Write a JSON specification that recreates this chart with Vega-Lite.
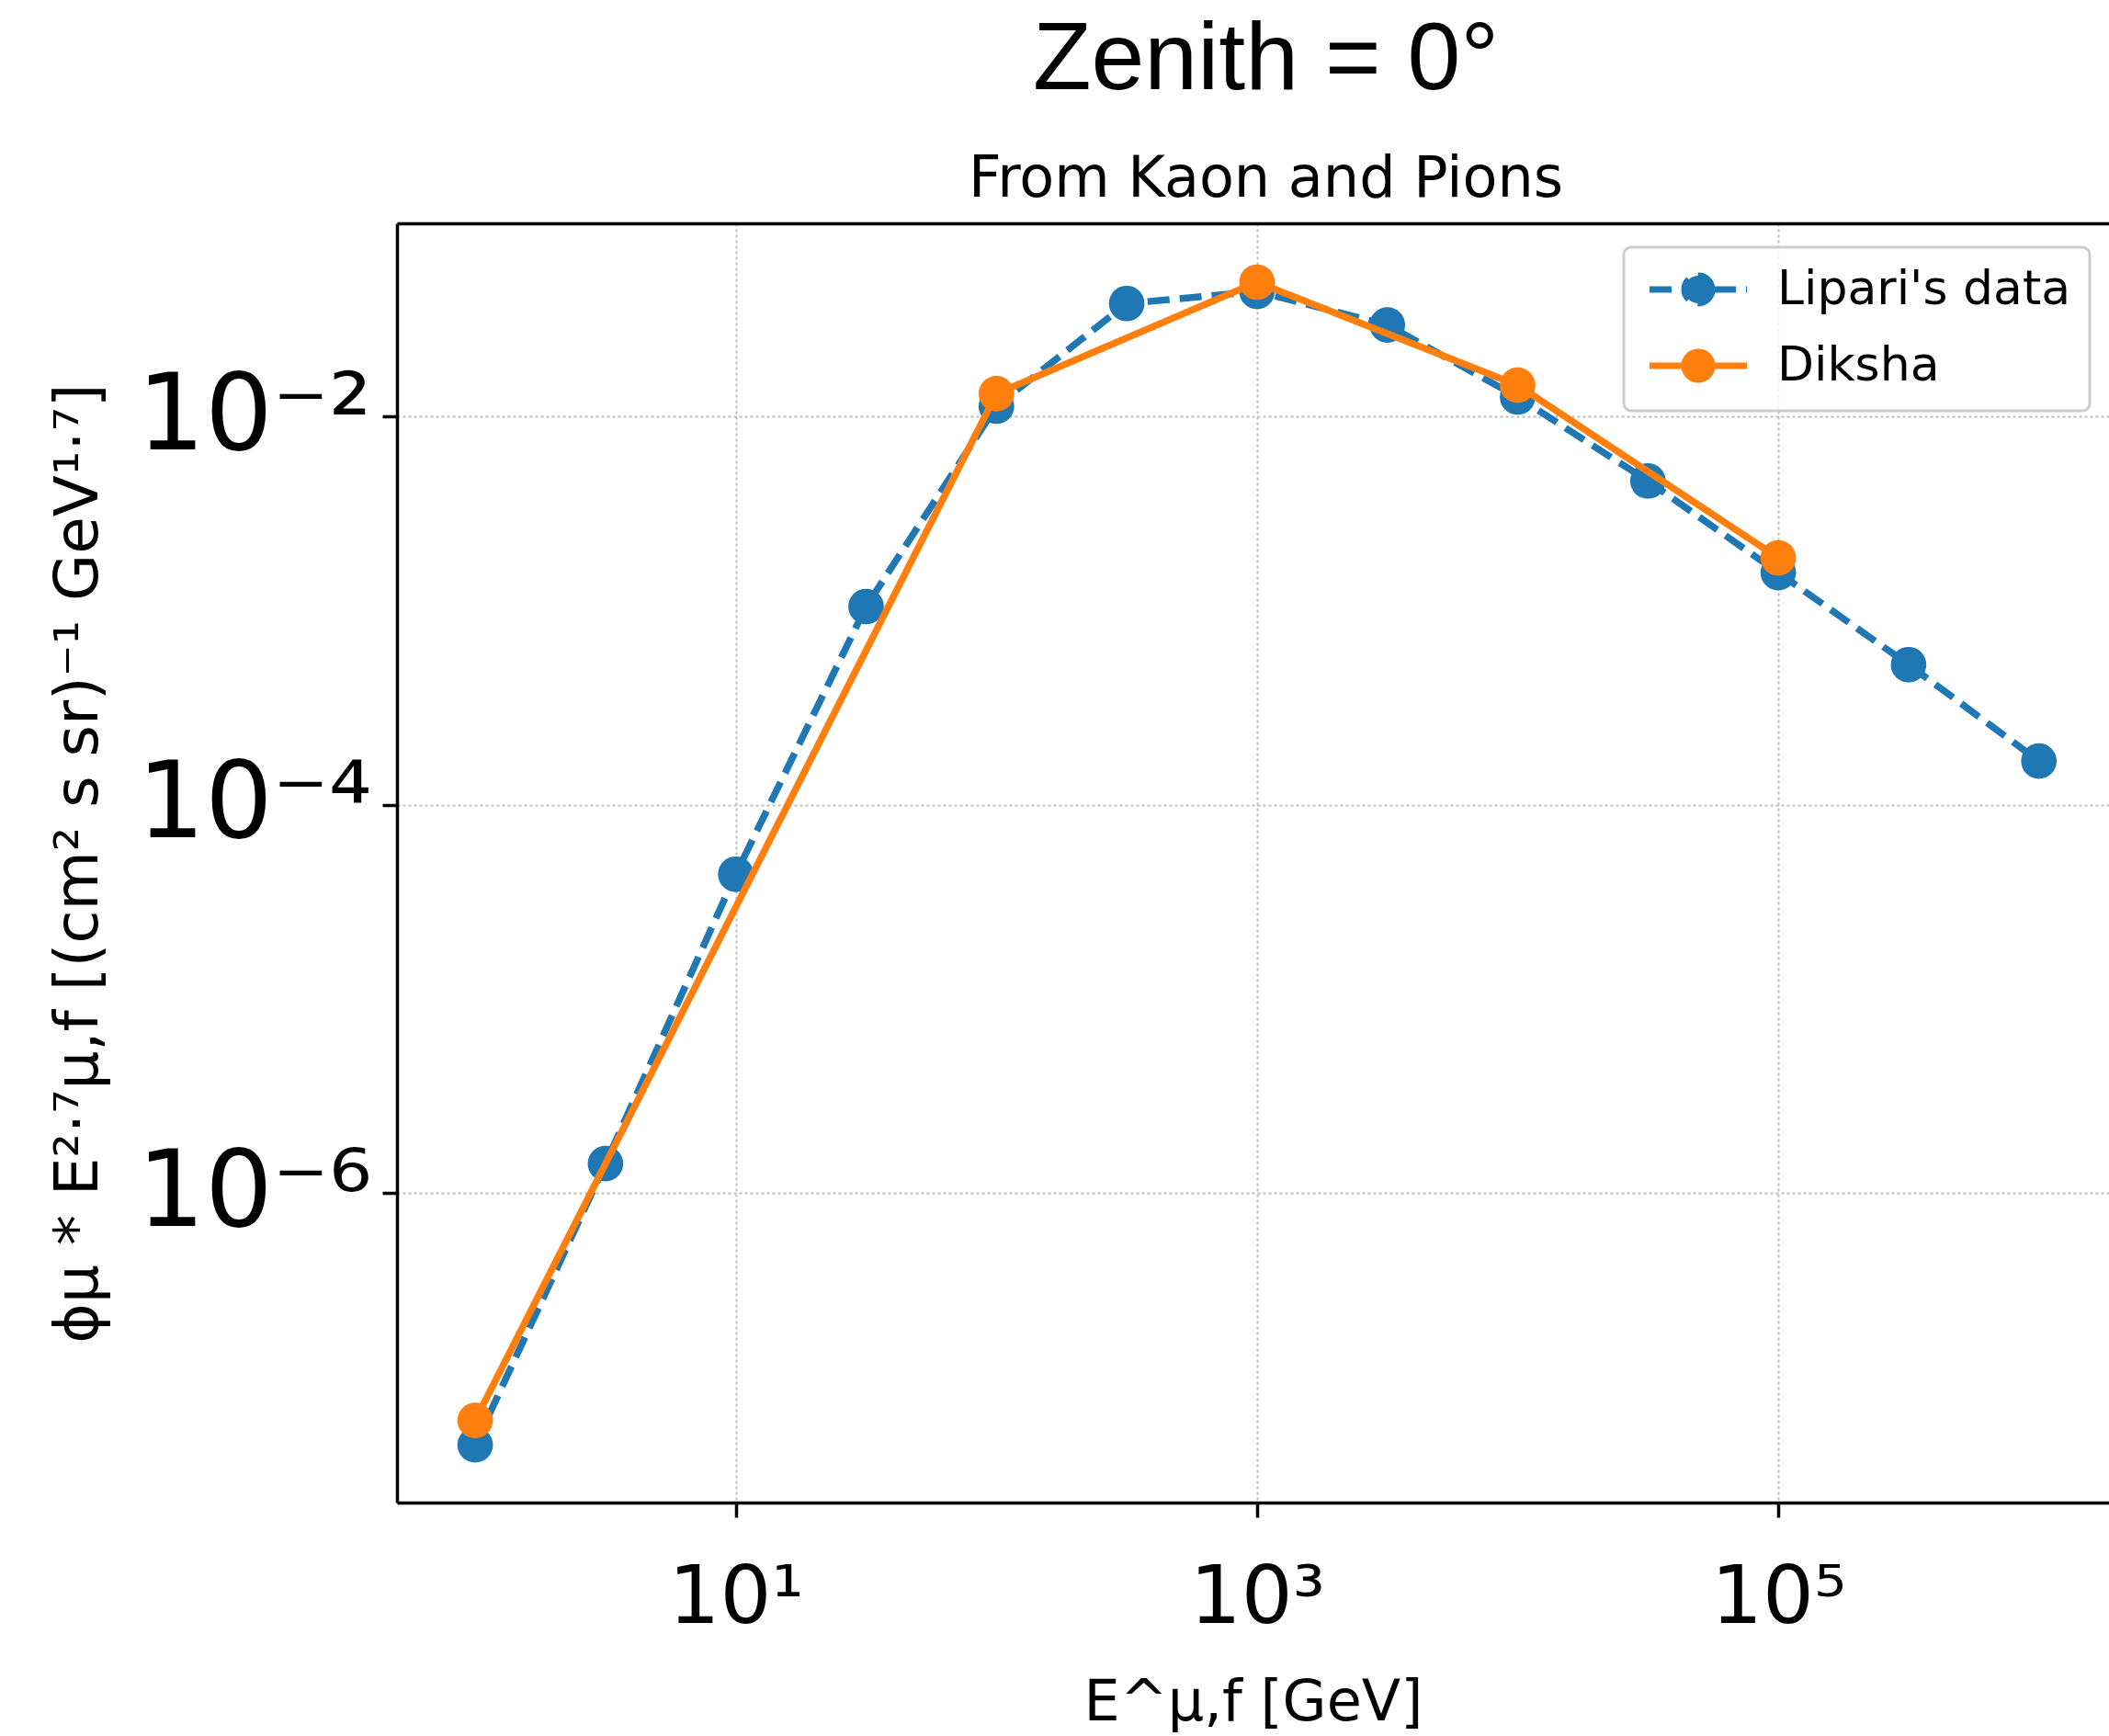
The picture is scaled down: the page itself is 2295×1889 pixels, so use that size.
{
  "$schema": "https://vega.github.io/schema/vega-lite/v6.json",
  "autosize": {"type": "none"},
  "padding": {"left": 432, "top": 243, "right": 0, "bottom": 254},
  "width": 1863,
  "height": 1392,
  "background": "white",
  "title": {
    "text": "Zenith = 0°",
    "subtitle": "From Kaon and Pions",
    "anchor": "middle",
    "dx": 14,
    "font": "Liberation Sans",
    "fontSize": 104,
    "fontWeight": "normal",
    "color": "black",
    "subtitleFont": "DejaVu Sans",
    "subtitleFontSize": 62,
    "subtitleColor": "black",
    "subtitlePadding": 46,
    "offset": 16
  },
  "data": {
    "values": [
      {"series": "Lipari's data", "E": 1, "phi": 5.05e-8},
      {"series": "Lipari's data", "E": 3.162, "phi": 1.42e-6},
      {"series": "Lipari's data", "E": 10, "phi": 4.39e-5},
      {"series": "Lipari's data", "E": 31.62, "phi": 1.05e-3},
      {"series": "Lipari's data", "E": 100, "phi": 1.13e-2},
      {"series": "Lipari's data", "E": 316.2, "phi": 3.82e-2},
      {"series": "Lipari's data", "E": 1000, "phi": 4.41e-2},
      {"series": "Lipari's data", "E": 3162, "phi": 2.96e-2},
      {"series": "Lipari's data", "E": 10000, "phi": 1.26e-2},
      {"series": "Lipari's data", "E": 31623, "phi": 4.65e-3},
      {"series": "Lipari's data", "E": 100000, "phi": 1.57e-3},
      {"series": "Lipari's data", "E": 316228, "phi": 5.27e-4},
      {"series": "Lipari's data", "E": 1000000, "phi": 1.68e-4},
      {"series": "Diksha", "E": 1, "phi": 6.75e-8},
      {"series": "Diksha", "E": 100, "phi": 1.31e-2},
      {"series": "Diksha", "E": 1000, "phi": 4.92e-2},
      {"series": "Diksha", "E": 10000, "phi": 1.45e-2},
      {"series": "Diksha", "E": 100000, "phi": 1.87e-3}
    ]
  },
  "encoding": {
    "x": {"field": "E", "type": "quantitative", "scale": {"type": "log", "domain": [0.5012, 1858000], "nice": false, "zero": false}},
    "y": {"field": "phi", "type": "quantitative", "scale": {"type": "log", "domain": [2.547e-8, 0.09886], "nice": false, "zero": false}},
    "color": {"field": "series", "type": "nominal", "scale": {"domain": ["Lipari's data", "Diksha"], "range": ["#1f77b4", "#ff7f0e"]}}
  },
  "layer": [
    {
      "transform": [{"filter": "datum.series === \"Lipari's data\""}],
      "mark": {"type": "line", "strokeWidth": 7.5, "strokeCap": "butt"},
      "encoding": {
        "x": {"field": "E", "type": "quantitative", "scale": {"type": "log", "domain": [0.5012, 1858000], "nice": false, "zero": false},
          "axis": {
            "orient": "bottom",
            "values": [10, 1000, 100000],
            "labelExpr": "datum.value < 100 ? '10¹' : datum.value < 10000 ? '10³' : '10⁵'",
            "labelFont": "DejaVu Sans", "labelFontSize": 88, "labelColor": "black", "labelPadding": 44,
            "labelOverlap": false, "labelBound": false, "labelFlush": false, "labelLimit": 0,
            "tickSize": 16, "tickWidth": 3.5, "tickColor": "black",
            "domainColor": "black", "domainWidth": 3.5,
            "grid": true, "gridColor": "#bbbbbb", "gridDash": [3, 3], "gridWidth": 2,
            "title": "E^μ,f [GeV]", "titleFont": "DejaVu Sans", "titleFontSize": 62, "titleFontWeight": "normal", "titleColor": "black",
            "titleBaseline": "alphabetic", "titleY": 236, "titleAnchor": "middle"
          }},
        "y": {"field": "phi", "type": "quantitative", "scale": {"type": "log", "domain": [2.547e-8, 0.09886], "nice": false, "zero": false},
          "axis": {
            "values": [0.000001, 0.0001, 0.01],
            "labelExpr": "datum.value < 0.000005 ? '10⁻⁶' : datum.value < 0.0005 ? '10⁻⁴' : '10⁻²'",
            "labelFont": "DejaVu Sans", "labelFontSize": 116, "labelColor": "black", "labelPadding": 12, "labelLimit": 0,
            "labelOverlap": false, "labelBound": false, "labelFlush": false,
            "tickSize": 16, "tickWidth": 3.5, "tickColor": "black",
            "domainColor": "black", "domainWidth": 3.5,
            "grid": true, "gridColor": "#bbbbbb", "gridDash": [3, 3], "gridWidth": 2,
            "title": "ϕμ * E²·⁷μ,f [(cm² s sr)⁻¹ GeV¹·⁷]", "titleFont": "DejaVu Sans", "titleFontSize": 66, "titleFontWeight": "normal", "titleColor": "black",
            "titleBaseline": "alphabetic", "titleAlign": "center", "titleAngle": -90, "titleX": -327, "titleY": 696, "titleLimit": 3000
          }},
        "strokeDash": {"field": "series", "type": "nominal", "scale": {"domain": ["Lipari's data", "Diksha"], "range": [[24, 11], [1, 0]]}, "legend": null},
        "color": {"field": "series", "type": "nominal", "scale": {"domain": ["Lipari's data", "Diksha"], "range": ["#1f77b4", "#ff7f0e"]},
          "legend": {
            "title": null, "orient": "none", "legendX": 1335, "legendY": 26,
            "symbolType": "M-2.65,0L2.65,0M0.75,0A0.75,0.75,0,1,1,-0.75,0A0.75,0.75,0,1,1,0.75,0Z",
            "symbolSize": 1600, "symbolStrokeWidth": 7, "symbolOffset": 35,
            "labelOffset": 60, "labelFont": "DejaVu Sans", "labelFontSize": 52, "labelColor": "black", "labelLimit": 2000,
            "rowPadding": 25, "padding": 20,
            "strokeColor": "#cccccc", "fillColor": "rgba(255,255,255,0.8)", "cornerRadius": 8,
            "encode": {
              "symbols": {"update": {
                "fill": {"scale": "color", "field": "value"},
                "stroke": {"scale": "color", "field": "value"},
                "strokeDash": {"scale": "strokeDash", "field": "value"},
                "opacity": {"value": 1}
              }},
              "legend": {"update": {"strokeWidth": {"value": 3}}}
            }
          }}
      }
    },
    {
      "transform": [{"filter": "datum.series === \"Lipari's data\""}],
      "mark": {"type": "point", "shape": "circle", "filled": true, "size": 1500, "opacity": 1},
      "encoding": {
        "x": {"field": "E", "type": "quantitative", "axis": null}
      }
    },
    {
      "transform": [{"filter": "datum.series === 'Diksha'"}],
      "mark": {"type": "line", "strokeWidth": 7.5},
      "encoding": {
        "x": {"field": "E", "type": "quantitative", "axis": null},
        "strokeDash": {"field": "series", "type": "nominal", "legend": null}
      }
    },
    {
      "transform": [{"filter": "datum.series === 'Diksha'"}],
      "mark": {"type": "point", "shape": "circle", "filled": true, "size": 1500, "opacity": 1},
      "encoding": {
        "x": {"field": "E", "type": "quantitative",
          "axis": {"orient": "top", "labels": false, "ticks": false, "grid": false, "domain": true, "domainColor": "black", "domainWidth": 3.5, "title": null}}
      }
    }
  ],
  "resolve": {"axis": {"x": "independent"}},
  "config": {"view": {"stroke": null}, "font": "DejaVu Sans"}
}
